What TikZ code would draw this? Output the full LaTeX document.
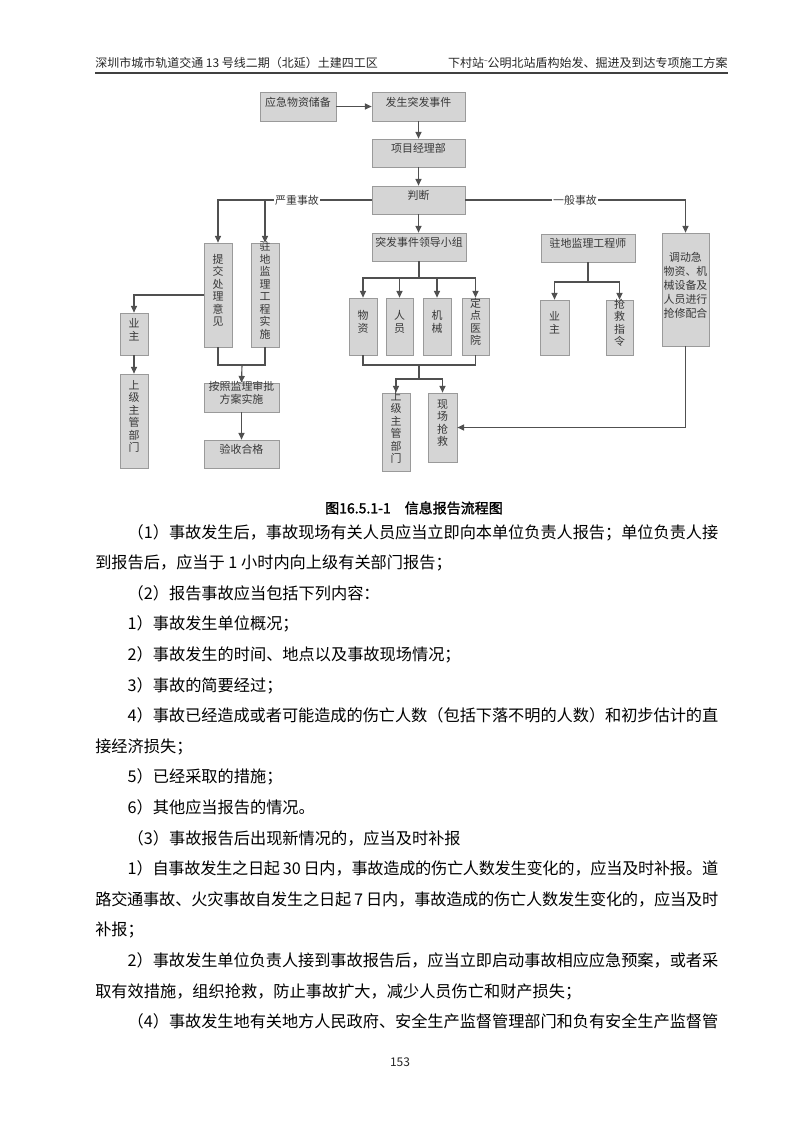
\documentclass[tikz,border=0pt]{standalone}
\usepackage{fontspec}
\setmainfont{Noto Sans CJK SC}
\newfontfamily\capfont{Noto Sans CJK SC}[FakeBold=1.6]
\usetikzlibrary{arrows.meta,fit,shadows}
\XeTeXlinebreaklocale "zh"
\XeTeXlinebreakskip=0pt plus 1pt minus 0.3pt
\setlength\parindent{0pt}
\tolerance=9999
\definecolor{lncol}{HTML}{505050}
\definecolor{bxfill}{HTML}{D5D5D5}
\definecolor{bxdraw}{HTML}{9A9A9A}
\definecolor{bxtext}{HTML}{383838}
\newcommand\bxf{\fontsize{8.2}{9.4}\selectfont}
\newcommand\jl{{\parfillskip=0pt\par}}
\tikzset{
  box/.style={draw=bxdraw, fill=bxfill, line width=0.6pt, inner sep=0pt, align=center,
    text=bxtext, font=\bxf,
    drop shadow={shadow xshift=1.1pt, shadow yshift=-1.1pt, fill=black!35, opacity=1}},
  nbox/.style={box, font=\fontsize{8.2}{10.5}\selectfont},
  conn/.style={draw=lncol, line width=0.85pt},
  arr/.style={conn, -{Triangle[length=5pt,width=4.6pt]}},
  lbl/.style={fill=white, inner sep=1pt, font=\bxf, text=bxtext},
  body/.style={anchor=base west, inner sep=0pt, text width=467.25pt, align=justify,
    font=\fontsize{12.15}{18}\selectfont},
  hdr/.style={inner sep=0pt, font=\fontsize{9}{10}\selectfont, text=black!85},
}
\begin{document}
\begin{tikzpicture}[x=0.75pt,y=-0.75pt]
\useasboundingbox (0,0) rectangle (800,1132);
\fill[white] (0,0) rectangle (800,1132);

% header
\node[hdr, anchor=base west] (h1) at (95,67) {深圳市城市轨道交通 13 号线二期（北延）土建四工区};
\node[hdr, anchor=base east] (h2) at (728,67) {下村站{\raisebox{0.3em}{\tiny\textasciitilde}}公明北站盾构始发、掘进及到达专项施工方案};
\draw[line width=1.1pt, black!75] (95,73) -- (728,73);

% boxes
\node[box, fit={(260,92)(336,121)}] (A) {应急物资储备};
\node[box, fit={(372,92)(465,121)}] (B) {发生突发事件};
\node[box, fit={(372,139)(465,167)}] (C) {项目经理部};
\node[box, fit={(372,186)(465,214)}] (D) {判断};
\node[box, fit={(204,243)(232,347)}] (E) {提\\交\\处\\理\\意\\见};
\node[box, fit={(251,243)(279,347)}] (F) {驻\\地\\监\\理\\工\\程\\实\\施};
\node[box, fit={(120,313)(148,355)}] (G) {业\\主};
\node[box, fit={(120,374)(148,468)}] (H) {上\\级\\主\\管\\部\\门};
\node[box, fit={(204,383)(279,412)}] (I) {按照监理审批\\方案实施};
\node[box, fit={(204,440)(279,468)}] (J) {验收合格};
\node[box, fit={(372,233)(466,261)}] (K) {突发事件领导小组};
\node[box, fit={(349,298)(377,355)}] (L1) {物\\资};
\node[box, fit={(386,298)(413,355)}] (L2) {人\\员};
\node[box, fit={(423,298)(451,355)}] (L3) {机\\械};
\node[box, fit={(462,298)(489,355)}] (L4) {定\\点\\医\\院};
\node[box, fit={(382,393)(410,471)}] (M1) {上\\级\\主\\管\\部\\门};
\node[box, fit={(428,393)(457,462)}] (M2) {现\\场\\抢\\救};
\node[nbox, fit={(662,233)(709,346)}] (N) {调动急\\物资、机\\械设备及\\人员进行\\抢修配合};
\node[box, fit={(541,234)(635,262)}] (O) {驻地监理工程师};
\node[box, fit={(540,300)(569,355)}] (P1) {业\\主};
\node[box, fit={(606,300)(633,355)}] (P2) {抢\\救\\指\\令};

% junction points
\coordinate (kb) at (419,278);
\coordinate (lb) at (419,365);
\coordinate (mb) at (419,379);
\coordinate (ob) at (588,282);
\coordinate (eb) at (242,365);

% connectors
\draw[arr] (A) -- (B);
\draw[arr] (B) -- (C);
\draw[arr] (C) -- (D);
\draw[arr] (D.west) -| (E.north);
\draw[arr] (D.west -| F.north) -- (F.north);
\draw[arr] (D.east) -| (N.north);
\draw[arr] (D.south) -- (D.south |- K.north);
\draw[conn] (K.south) -- (kb);
\draw[arr] (kb) -| (L1.north);
\draw[arr] (kb) -| (L2.north);
\draw[arr] (kb) -| (L3.north);
\draw[arr] (kb) -| (L4.north);
\draw[conn] (L1.south) |- (lb) -| (L4.south);
\draw[conn] (lb) -- (mb);
\draw[arr] (mb) -| (M1.north);
\draw[arr] (mb) -| (M2.north);
\draw[arr] (N.south) |- (M2.east);
\draw[conn] (O.south) -- (ob);
\draw[arr] (ob) -| (P1.north);
\draw[arr] (ob) -| (P2.north);
\draw[arr] (E.west) -| (G.north);
\draw[arr] (G) -- (H);
\draw[conn] (E.south) |- (eb) -| (F.south);
\draw[arr] (eb) -- (I.north);
\draw[arr] (I) -- (J);

% branch labels
\node[lbl] (l1) at (297,200) {严重事故};
\node[lbl] (l2) at (575,200) {一般事故};

% caption
\node[inner sep=0pt, font=\capfont\fontsize{10.5}{12}\selectfont] (cap) at (414,508) {图16.5.1-1\quad 信息报告流程图};

% body text
\node[body] (t1) at (95,538.0) {\hspace*{2em}（1）事故发生后，事故现场有关人员应当立即向本单位负责人报告；单位负责人接\jl};
\node[body] (t2) at (95,568.6) {到报告后，应当于 1 小时内向上级有关部门报告；};
\node[body] (t3) at (95,599.2) {\hspace*{2em}（2）报告事故应当包括下列内容：};
\node[body] (t4) at (95,629.8) {\hspace*{2em}1）事故发生单位概况；};
\node[body] (t5) at (95,660.4) {\hspace*{2em}2）事故发生的时间、地点以及事故现场情况；};
\node[body] (t6) at (95,691.0) {\hspace*{2em}3）事故的简要经过；};
\node[body] (t7) at (95,721.6) {\hspace*{2em}4）事故已经造成或者可能造成的伤亡人数（包括下落不明的人数）和初步估计的直\jl};
\node[body] (t8) at (95,752.2) {接经济损失；};
\node[body] (t9) at (95,782.8) {\hspace*{2em}5）已经采取的措施；};
\node[body] (t10) at (95,813.4) {\hspace*{2em}6）其他应当报告的情况。};
\node[body] (t11) at (95,844.0) {\hspace*{2em}（3）事故报告后出现新情况的，应当及时补报};
\node[body] (t12) at (95,874.6) {\hspace*{2em}1）自事故发生之日起 30 日内，事故造成的伤亡人数发生变化的，应当及时补报。道\jl};
\node[body] (t13) at (95,905.2) {路交通事故、火灾事故自发生之日起 7 日内，事故造成的伤亡人数发生变化的，应当及时\jl};
\node[body] (t14) at (95,935.8) {补报；};
\node[body] (t15) at (95,966.4) {\hspace*{2em}2）事故发生单位负责人接到事故报告后，应当立即启动事故相应应急预案，或者采\jl};
\node[body] (t16) at (95,997.0) {取有效措施，组织抢救，防止事故扩大，减少人员伤亡和财产损失；};
\node[body] (t17) at (95,1027.6) {\hspace*{2em}（4）事故发生地有关地方人民政府、安全生产监督管理部门和负有安全生产监督管\jl};

% page number
\node[hdr] (pg) at (400,1062) {153};
\end{tikzpicture}
\end{document}
